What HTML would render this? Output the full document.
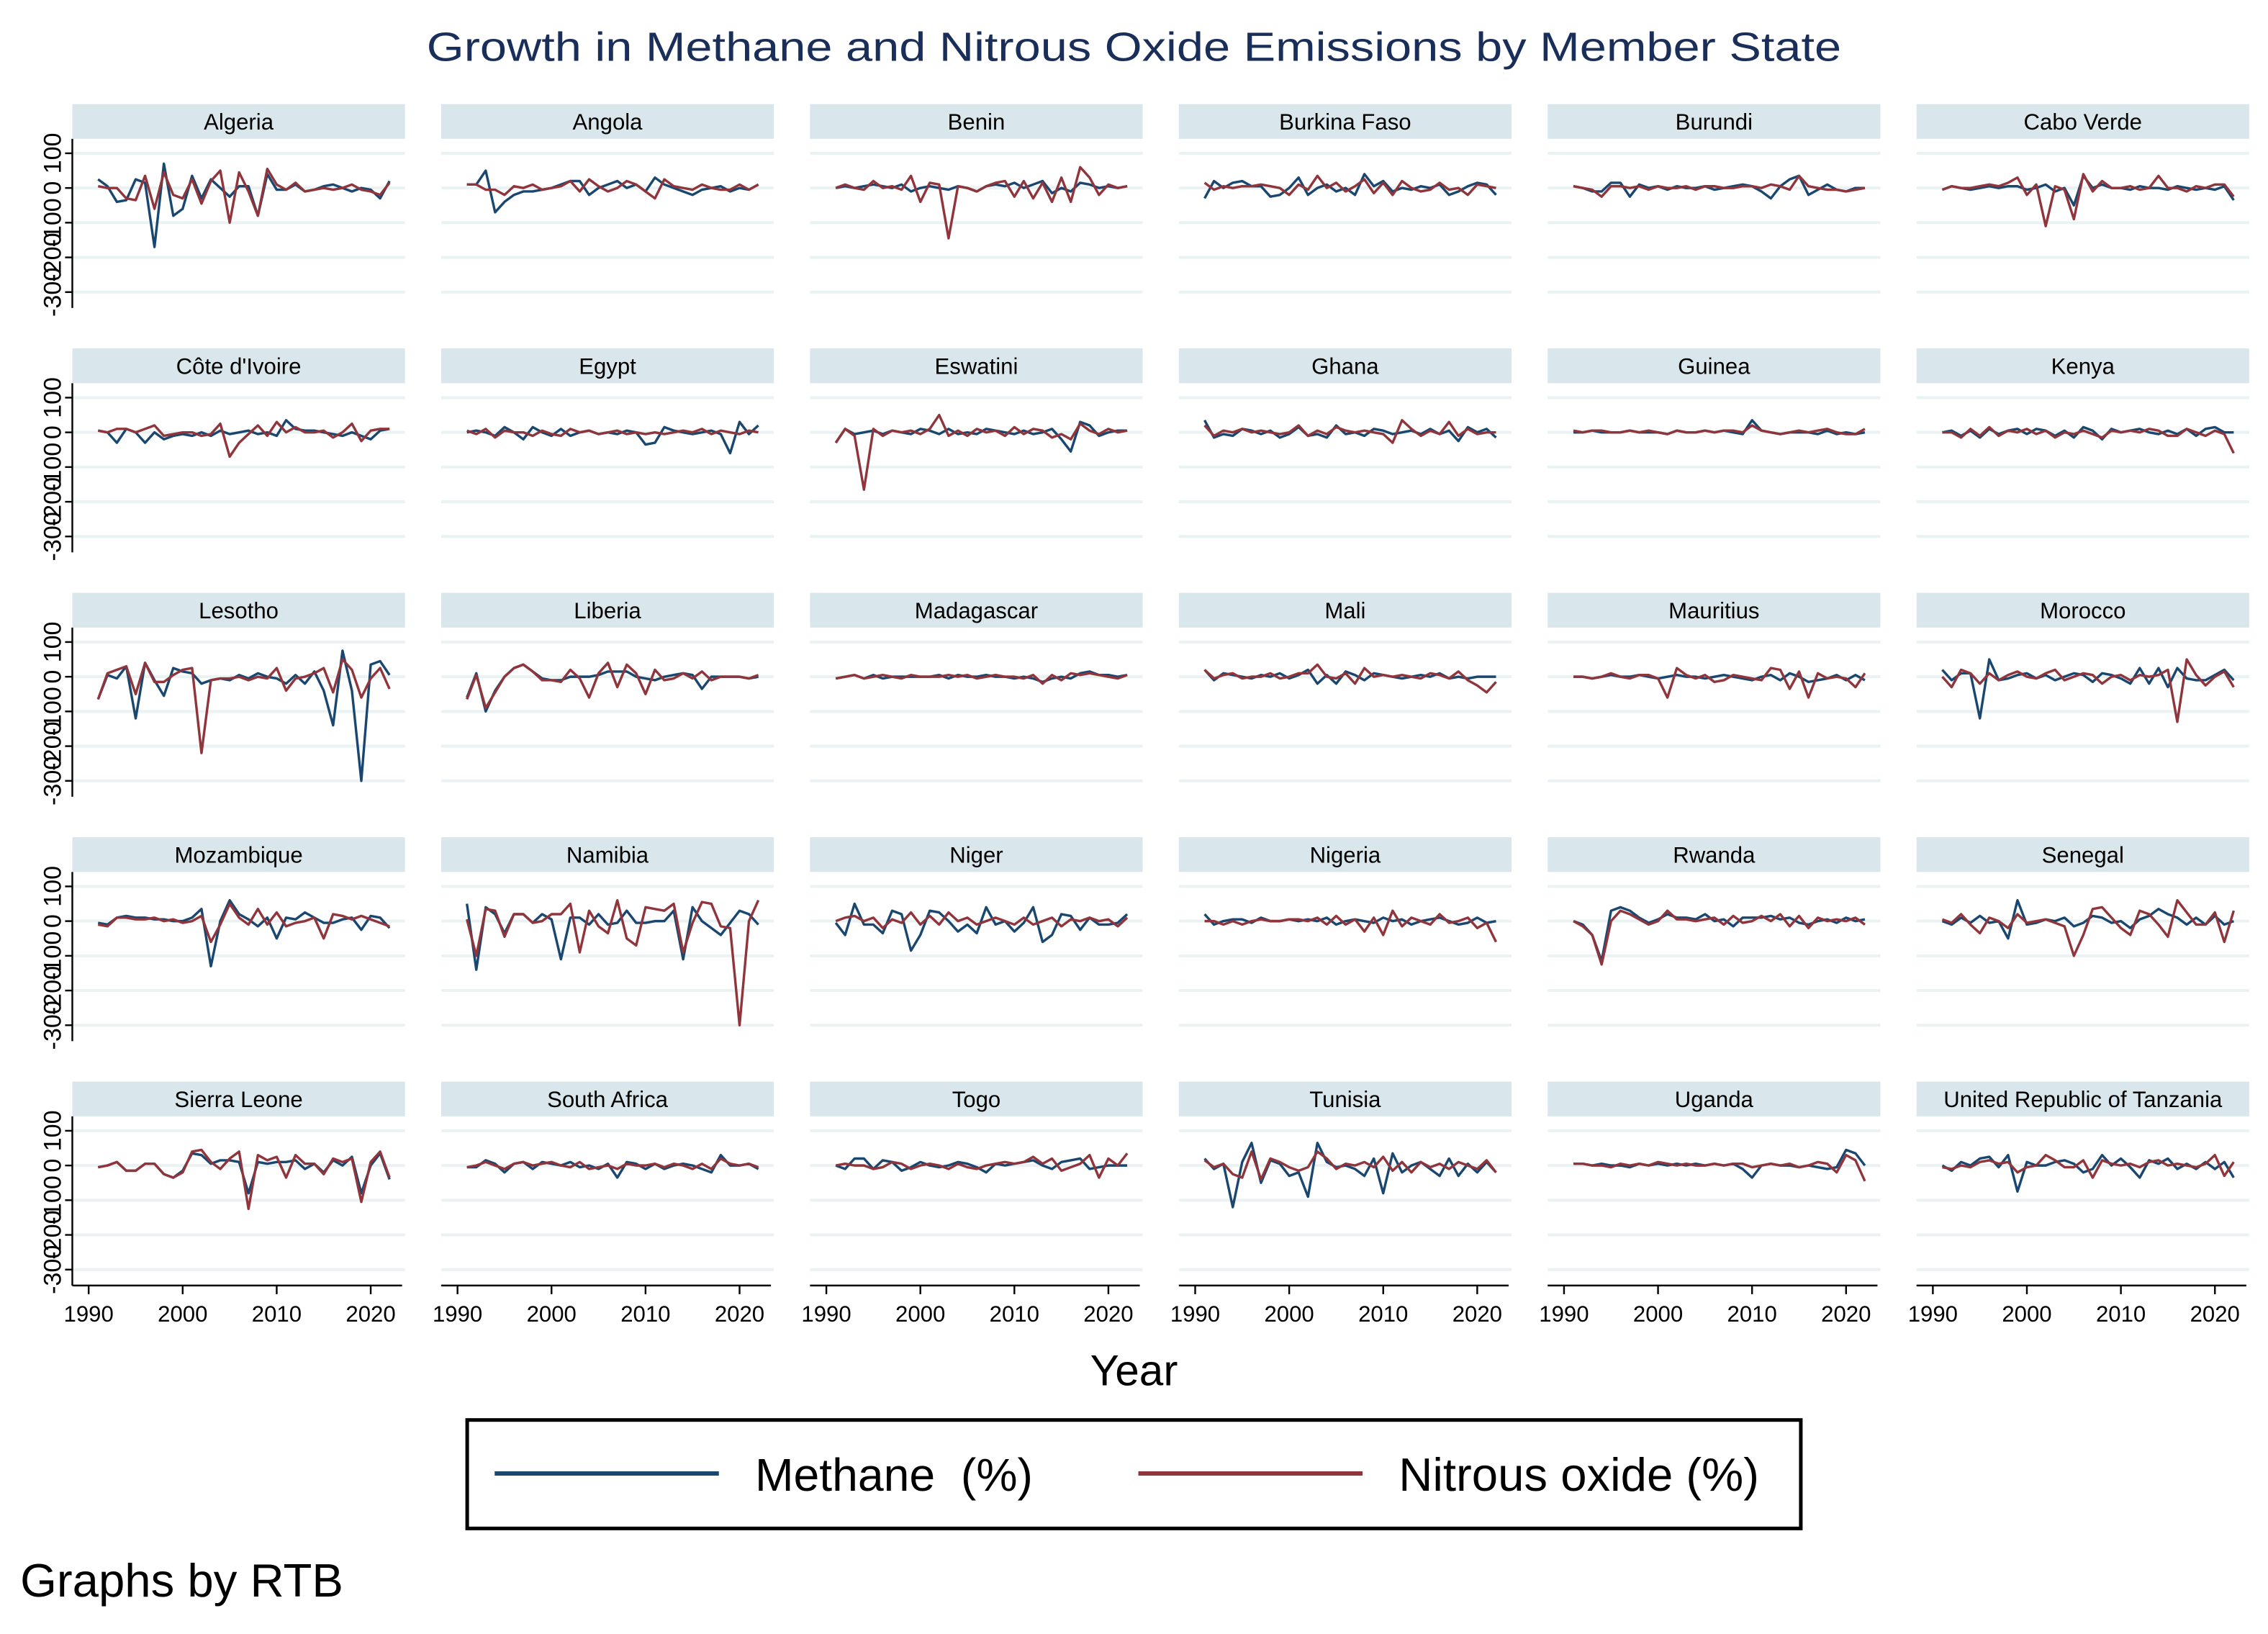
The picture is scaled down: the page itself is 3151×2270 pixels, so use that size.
<!DOCTYPE html>
<html><head><meta charset="utf-8"><style>
html,body{margin:0;padding:0;background:#fff}
svg{display:block}
text{font-family:"Liberation Sans",Arial,sans-serif}
</style></head><body>
<svg id="chart" xmlns="http://www.w3.org/2000/svg" width="3151" height="2270" viewBox="0 0 1568 1130" preserveAspectRatio="none">
<rect x="0" y="0" width="1568" height="1130" fill="#fff"/>
<text x="784" y="42" text-anchor="middle" font-size="28" fill="#1a2e5a" textLength="978" lengthAdjust="spacingAndGlyphs">Growth in Methane and Nitrous Oxide Emissions by Member State</text>
<g id="panels"></g>
<text x="784" y="958" text-anchor="middle" font-size="30">Year</text>
<g>
<rect x="323" y="982" width="922" height="75" fill="none" stroke="#000" stroke-width="2.5"/>
<g>
<line x1="342" y1="1019" x2="497" y2="1019" stroke="#1a476f" stroke-width="3"/>
<text x="522" y="1031" font-size="32" xml:space="preserve">Methane&#160; (%)</text>
</g>
<g>
<line x1="787" y1="1019" x2="942" y2="1019" stroke="#90353b" stroke-width="3"/>
<text x="967" y="1031" font-size="32.5">Nitrous oxide (%)</text>
</g>
</g>
<text x="14" y="1104" font-size="32.5">Graphs by RTB</text>
</svg>
<script>
const countries = ["Algeria","Angola","Benin","Burkina Faso","Burundi","Cabo Verde","Côte d'Ivoire","Egypt","Eswatini","Ghana","Guinea","Kenya","Lesotho","Liberia","Madagascar","Mali","Mauritius","Morocco","Mozambique","Namibia","Niger","Nigeria","Rwanda","Senegal","Sierra Leone","South Africa","Togo","Tunisia","Uganda","United Republic of Tanzania"];
const firstYear = 1991;
const yTicks = [100, 0, -100, -200, -300];
const yTickLabels = ["100", "0", "-100", "-200", "-300"];
const xTicks = [1990, 2000, 2010, 2020];
const xTickLabels = ["1990", "2000", "2010", "2020"];
const methaneSeries = [
[25,5,-40,-35,25,15,-170,70,-80,-60,35,-30,25,0,-25,5,5,-80,40,-5,-5,10,-10,-5,5,10,0,-10,0,-5,-30,20],
[10,10,50,-70,-40,-20,-10,-10,-5,0,10,20,20,-20,0,10,20,0,10,-10,30,10,0,-10,-20,-5,0,5,-10,0,-5,10],
[0,5,0,5,10,5,0,10,-10,0,5,0,-5,5,0,-10,5,10,5,15,0,10,20,-15,0,-10,15,10,0,5,0,5],
[-30,20,0,15,20,5,5,-25,-20,0,30,-20,0,10,-10,0,-20,40,5,20,-10,0,-5,5,0,10,-20,-10,5,15,10,-20],
[5,0,-10,-10,15,15,-25,10,0,5,-5,5,0,0,5,-5,0,5,10,5,-10,-30,5,25,35,-20,-5,10,-5,-10,0,0],
[-5,5,0,-5,0,5,0,5,5,-5,0,10,-10,0,-50,35,0,10,0,0,-5,5,0,0,-5,5,0,-5,0,-5,5,-35],
[5,0,-30,10,0,-30,0,-20,-10,-5,-10,0,-10,5,-5,0,5,-5,0,-10,35,10,5,5,0,-5,-10,0,-10,-20,5,10],
[0,5,0,-10,15,0,-20,15,0,-10,10,-10,0,5,-5,0,-5,5,0,-35,-30,15,5,0,-5,0,5,-5,-60,30,-5,20],
[-30,10,-5,0,5,-5,5,0,-5,10,5,-5,10,-5,0,-5,10,5,0,-5,5,-5,0,10,-20,-55,30,20,-10,0,5,5],
[35,-15,-5,-10,10,5,-5,5,-15,-5,15,-10,-5,-15,20,-5,0,-10,10,5,-5,0,5,-5,10,-5,5,-25,15,0,10,-15],
[0,0,5,0,0,0,5,0,0,0,-5,5,0,0,5,0,5,0,-5,35,5,0,-5,0,0,0,-5,5,-5,0,-5,0],
[0,5,-10,5,-15,10,-5,5,10,-5,10,5,-10,5,-15,15,5,-20,10,0,5,10,0,-5,5,-5,10,-10,10,15,0,0],
[-65,5,-5,30,-120,40,-10,-55,25,15,10,-20,-10,-5,-10,5,-5,10,0,-5,-20,5,-20,15,-40,-140,75,-40,-300,35,45,5],
[-60,10,-100,-40,0,25,35,15,-5,-10,-10,0,0,0,5,15,15,15,0,-5,-10,0,5,10,5,-35,0,0,0,0,-5,0],
[-5,0,5,-5,5,-5,0,0,0,0,0,5,-5,5,0,0,5,0,0,-5,0,-5,-15,-5,0,-5,10,15,5,5,0,5],
[20,-10,10,5,0,-5,5,0,10,-5,5,20,-20,5,-20,15,5,-10,10,5,0,-5,0,5,0,10,-5,0,-5,0,0,0],
[0,0,-5,0,5,0,0,5,0,-5,0,5,0,0,-5,0,5,0,-5,-10,0,5,-10,10,0,-15,-10,-5,5,-10,5,-10],
[20,-10,10,10,-120,50,-10,-5,5,10,-5,5,-10,0,10,5,-15,10,5,-5,-20,25,-20,25,-30,25,-5,-10,-10,5,20,-10],
[-5,-10,10,15,10,10,5,5,0,0,10,35,-130,0,60,20,5,-15,10,-50,10,5,25,10,-5,-5,5,10,-25,15,10,-20],
[50,-140,40,20,-35,20,20,-5,20,5,-110,10,10,-10,20,-10,-5,30,-5,-5,0,0,30,-110,40,0,-20,-40,-5,30,20,-10],
[-5,-40,50,-10,-10,-35,30,20,-85,-40,30,25,0,-30,-10,-35,40,-10,0,-30,-5,40,-60,-40,20,15,-25,10,-10,-10,-5,20],
[20,-10,0,5,5,-5,10,0,0,5,0,5,0,10,-10,0,5,0,-5,10,0,5,-10,0,5,10,0,-10,-5,10,-5,0],
[0,-10,-40,-115,30,40,30,10,-5,5,20,10,10,5,20,0,5,-15,10,10,10,15,5,10,-5,-10,0,5,-5,10,0,5],
[0,-10,10,-5,15,-5,0,-50,60,-10,-5,5,0,10,-15,-5,15,10,-5,0,-20,5,15,35,20,10,-10,10,-10,15,-10,0],
[-5,0,10,-15,-15,5,5,-25,-35,-15,35,30,5,15,15,10,-80,10,5,10,10,15,-10,5,-20,15,0,25,-80,0,35,-40],
[-5,-5,15,5,-20,5,10,-10,10,5,0,10,-5,0,-10,5,-35,10,5,-10,5,-10,0,5,0,-10,-20,30,0,0,5,-10],
[0,-10,20,20,-10,15,10,-15,-5,10,0,-5,0,10,5,-5,-20,5,0,5,10,15,0,-10,10,15,20,-10,-5,0,0,0],
[20,-10,5,-120,10,65,-50,15,5,-30,-20,-90,65,10,-5,0,-10,-30,20,-80,35,-20,0,10,-10,-30,20,-30,5,-20,10,-20],
[5,5,0,5,0,0,-5,5,0,5,0,5,0,5,0,5,0,5,-10,-35,0,5,0,0,-5,0,-5,-10,-5,45,35,0],
[0,-15,10,0,20,25,-5,30,-75,10,0,0,10,15,5,-20,-10,30,0,20,-5,-35,15,5,20,-10,5,-10,10,-10,10,-35]
];
const nitrousSeries = [
[5,0,0,-30,-35,35,-60,45,-20,-30,25,-45,20,50,-100,45,-10,-80,55,10,-5,15,-10,-5,0,-5,0,10,-5,-10,-20,15],
[10,10,-5,-5,-20,5,0,10,-5,0,5,20,-10,25,5,-10,0,20,10,-10,-30,25,5,0,-5,10,0,-5,-5,10,-5,10],
[0,10,0,-5,20,0,5,-5,35,-40,15,10,-145,5,0,-10,5,15,20,-25,20,-30,15,-40,30,-40,60,30,-20,10,0,5],
[15,-5,5,0,5,5,10,5,0,-20,10,-5,35,0,15,-10,5,25,-15,15,-20,20,0,-10,-5,15,-5,0,-20,10,5,0],
[5,0,-5,-25,5,5,0,5,-5,5,0,0,5,-5,5,5,0,0,5,5,0,10,5,-5,35,5,0,-5,-5,-10,-5,0],
[-5,5,0,0,5,10,5,15,30,-20,10,-110,5,-5,-90,40,-10,20,0,0,5,-5,0,35,0,0,-10,5,0,10,10,-25],
[5,0,10,10,0,10,20,-10,-5,0,0,-10,-5,25,-70,-30,-5,20,-10,30,0,15,0,0,5,-15,0,25,-25,5,10,10],
[5,-5,10,-15,5,0,0,-10,5,-5,-10,10,0,5,-5,0,5,-5,0,-5,0,-5,0,5,0,10,-5,5,0,-5,5,0],
[-30,10,-10,-165,10,-10,5,0,5,-5,10,50,-10,5,-10,10,0,5,-10,15,-5,10,5,-15,-5,-20,25,5,-5,10,0,5],
[20,-10,5,0,10,0,5,0,-5,0,20,-10,5,-5,15,5,0,5,0,-5,-30,35,10,-10,5,-5,30,-10,10,-5,0,0],
[5,0,5,5,0,0,5,0,5,0,-5,5,0,0,5,0,5,5,0,20,5,0,-5,0,5,0,5,10,0,-5,-5,10],
[0,0,-15,10,-10,15,-10,5,0,10,-5,5,-15,0,-5,5,-5,-15,5,0,5,0,10,5,-10,-10,10,0,-10,5,-5,-60],
[-65,10,20,30,-50,40,-15,-15,5,20,25,-220,-10,-5,-5,0,-10,0,-5,25,-40,-5,0,10,25,-45,50,20,-60,-5,25,-35],
[-65,5,-90,-45,0,25,35,15,-10,-10,-15,20,-5,-60,10,40,-30,35,10,-50,20,-10,-5,10,-5,15,-10,0,0,0,-5,5],
[-5,0,5,-5,0,5,0,-5,5,0,0,0,5,0,5,-5,0,5,0,0,-5,5,-20,5,-10,10,5,10,5,0,-5,5],
[20,-5,5,10,-5,0,0,10,-5,0,10,10,35,0,-5,10,-20,25,0,5,0,5,0,-5,10,5,-5,15,-10,-25,-45,-15],
[0,0,-5,0,10,0,-5,5,5,-5,-60,25,5,-5,5,-15,-10,5,0,-5,-10,25,20,-35,15,-60,10,-5,0,-5,-30,10],
[0,-30,20,10,-20,10,-10,5,15,0,-5,10,20,-10,0,10,5,-20,0,5,-10,5,0,5,20,-130,50,5,-25,0,15,-30],
[-10,-15,10,10,5,5,10,0,5,-5,0,15,-60,-10,50,10,-10,35,-10,25,-15,-5,0,10,-50,20,15,5,15,5,-5,-15],
[5,-100,35,30,-45,20,20,-5,0,20,20,50,-90,30,-15,-35,60,-50,-70,40,35,30,50,-90,-5,55,50,-15,-20,-300,0,60],
[0,10,15,0,10,-20,5,-5,25,-10,15,-10,25,0,10,-10,0,10,0,-10,10,-10,0,10,-15,5,0,10,0,5,-15,10],
[0,0,-10,0,-10,0,5,0,0,5,5,0,10,-10,15,-10,5,-30,10,-40,30,-15,10,0,-10,20,-5,0,10,-20,-5,-60],
[0,-15,-40,-125,0,30,20,5,-10,0,30,5,5,0,5,10,-10,15,-5,0,15,0,20,-15,15,-20,10,0,5,0,10,-10],
[5,-5,20,-10,-35,10,0,-20,20,-5,0,5,-5,-15,-100,-40,35,40,10,-20,-40,30,20,-10,-45,60,25,-10,-10,25,-60,30],
[-5,0,10,-15,-15,5,5,-25,-35,-20,40,45,10,-10,20,40,-125,30,15,25,-35,30,5,5,-25,20,10,20,-105,10,40,-35],
[-5,0,10,0,-10,5,10,0,5,10,0,-5,10,-10,-5,0,-10,5,0,0,5,-5,5,0,-10,5,-10,20,5,0,5,-5],
[0,5,0,0,-10,-5,10,5,-10,0,5,0,-10,5,-5,-10,0,5,10,5,10,25,5,20,-15,-5,5,30,-35,20,0,35],
[15,-5,5,-25,-35,40,-40,20,10,-5,-15,-5,40,20,-10,5,0,10,-5,25,-15,10,-20,10,-5,5,-10,10,0,-10,15,-20],
[5,5,0,0,-5,5,0,5,0,10,5,0,5,0,0,5,0,5,5,-5,0,5,0,5,-5,0,10,5,-20,30,15,-45],
[-5,-10,0,-5,10,15,5,10,-20,-5,0,30,15,-5,-5,15,-35,15,5,0,5,-5,10,15,0,5,0,-5,5,30,-30,10]
];

const NS = "http://www.w3.org/2000/svg";
const panels = document.getElementById("panels");
function mk(tag, attrs, parent) {
  const e = document.createElementNS(NS, tag);
  for (const k in attrs) e.setAttribute(k, attrs[k]);
  parent.appendChild(e);
  return e;
}
const COLS = 6, COLW = 255, ROWH = 169, LEFT = 50, TOP = 72, PW = 230;
function xPos(col, yr) { return LEFT + col * COLW + 11.3 + 6.5 * (yr - 1990); }
function yPos(row, v) { return TOP + row * ROWH + 58 - 0.24 * v; }

countries.forEach((name, i) => {
  const col = i % COLS, row = Math.floor(i / COLS);
  const x0 = LEFT + col * COLW, top = TOP + row * ROWH;
  const g = mk("g", {}, panels);
  
  
  const hdr = mk("rect", {x: x0, y: top, width: PW, height: 24, fill: "#d9e6eb"}, g);
  
  
  const ht = mk("text", {x: x0 + PW / 2, y: top + 17.5, "text-anchor": "middle", "font-size": 15.5}, g);
  ht.textContent = name;
  
  
  yTicks.forEach(v => {
    const gl = mk("line", {x1: x0, x2: x0 + PW, y1: yPos(row, v), y2: yPos(row, v), stroke: "#eaf2f3", "stroke-width": 2}, g);
    
    
  });
  if (col === 0) {
    const ax = mk("line", {x1: x0, x2: x0, y1: top + 24, y2: top + 141, stroke: "#000", "stroke-width": 1.2}, g);
    
    
    yTicks.forEach((v, k) => {
      const y = yPos(row, v);
      mk("line", {x1: x0 - 5, x2: x0, y1: y, y2: y, stroke: "#000", "stroke-width": 1.2}, g);
      const t = mk("text", {x: 0, y: 0, "text-anchor": "middle", "font-size": 17, transform: "translate(" + (x0 - 8) + "," + y + ") rotate(-90)"}, g);
      t.textContent = yTickLabels[k];
      
      
    });
  }
  if (row === 4) {
    const axY = top + 141;
    const xa = mk("line", {x1: x0, x2: x0 + PW - 2, y1: axY, y2: axY, stroke: "#000", "stroke-width": 1.2}, g);
    
    
    xTicks.forEach((yr, k) => {
      const x = xPos(col, yr);
      mk("line", {x1: x, x2: x, y1: axY, y2: axY + 6, stroke: "#000", "stroke-width": 1.2}, g);
      const t = mk("text", {x: x, y: axY + 25, "text-anchor": "middle", "font-size": 15.5}, g);
      t.textContent = xTickLabels[k];
      
      
    });
  }
  [[methaneSeries[i], "#1a476f", "methane-line"], [nitrousSeries[i], "#90353b", "nitrous-oxide-line"]].forEach(([vals, color, nm]) => {
    const pts = vals.map((v, k) => xPos(col, firstYear + k).toFixed(1) + "," + yPos(row, v).toFixed(1)).join(" ");
    const pl = mk("polyline", {points: pts, fill: "none", stroke: color, "stroke-width": 1.7, "stroke-linejoin": "round"}, g);
    
    
  });
});
</script>
</body></html>
